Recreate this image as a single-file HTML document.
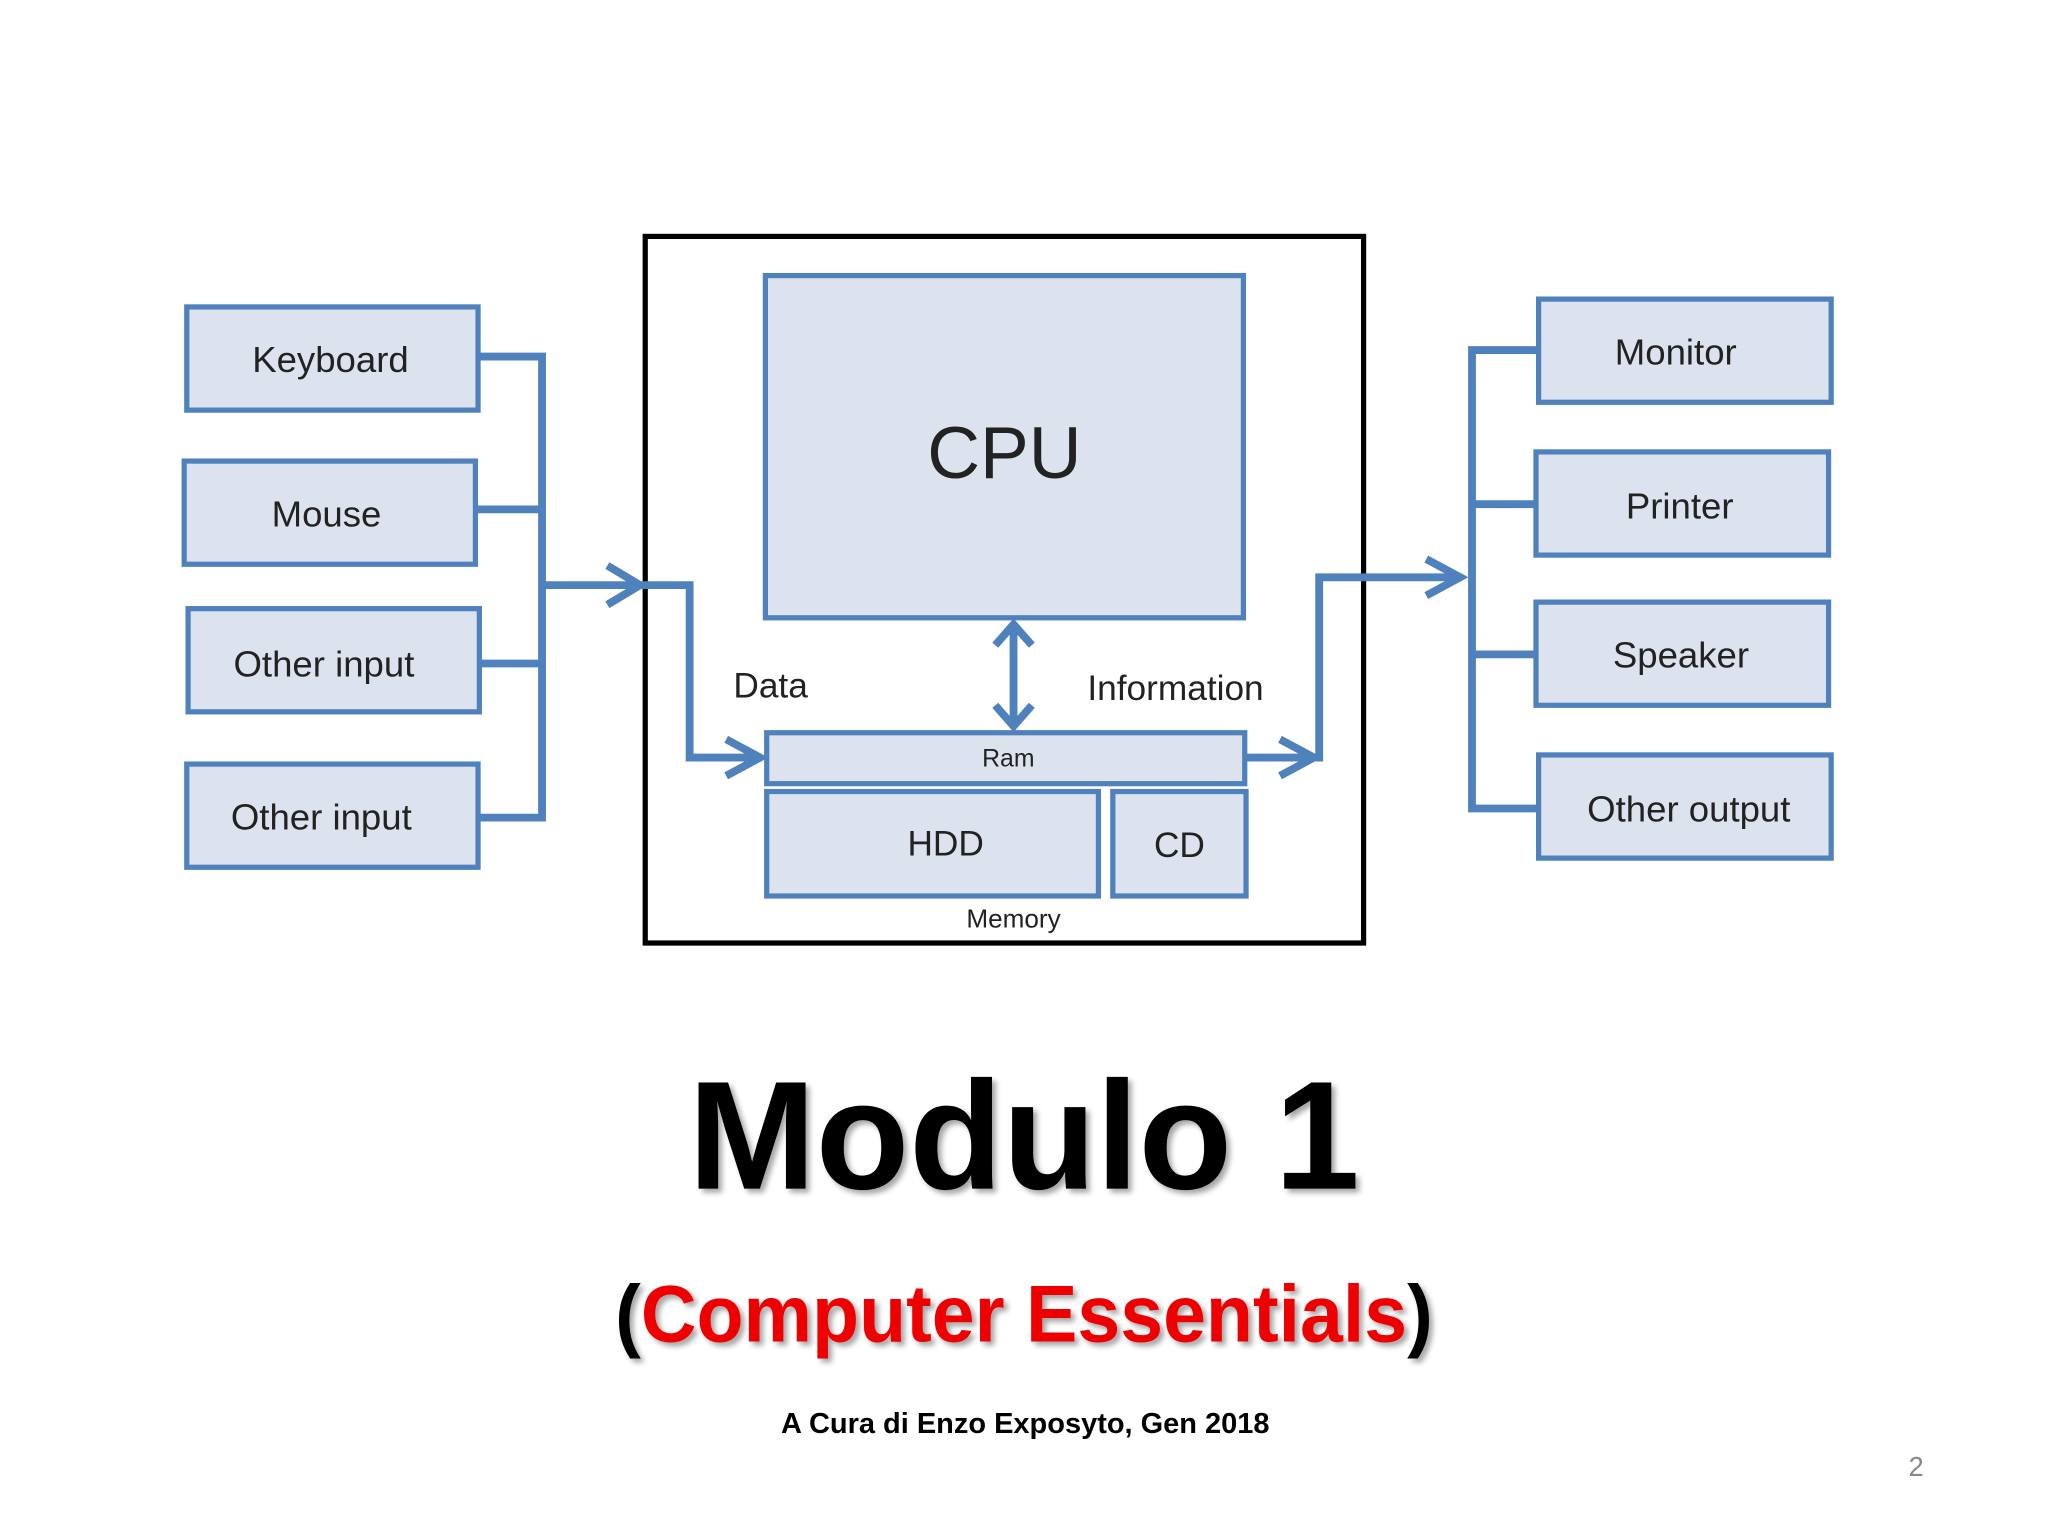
<!DOCTYPE html>
<html><head><meta charset="utf-8"><style>html,body{margin:0;padding:0;background:#fff}svg{display:block}</style></head>
<body>
<svg width="2048" height="1536" viewBox="0 0 1568 1176" xmlns="http://www.w3.org/2000/svg" font-family="'Liberation Sans', sans-serif">
<defs>
<marker id="ah" viewBox="0 0 10 10" refX="9" refY="5" markerWidth="6" markerHeight="6" markerUnits="userSpaceOnUse" orient="auto-start-reverse">
</marker>
<filter id="sh"><feDropShadow dx="3" dy="3" stdDeviation="2" flood-color="#000" flood-opacity="0.35"/></filter>
</defs>
<rect width="1568" height="1176" fill="#fff"/>
<g fill="#dce3ef" stroke="#4f81bd" stroke-width="4">
<rect x="143" y="235" width="223" height="79"/>
<rect x="141" y="353" width="223" height="79"/>
<rect x="144" y="466" width="223" height="79"/>
<rect x="143" y="585" width="223" height="79"/>
<rect x="586" y="211" width="366" height="262"/>
<rect x="587" y="561" width="366" height="39"/>
<rect x="587" y="606" width="254" height="80"/>
<rect x="852" y="606" width="102" height="80"/>
<rect x="1178" y="229" width="224" height="79"/>
<rect x="1176" y="346" width="224" height="79"/>
<rect x="1176" y="461" width="224" height="79"/>
<rect x="1178" y="578" width="224" height="79"/>
</g>
<rect x="494" y="181" width="550" height="541" fill="none" stroke="#000" stroke-width="4"/>
<g fill="none" stroke="#4f81bd" stroke-width="6">
<path d="M366 273H415M364 390H415M367 508H415M366 626H415M415 270V629"/>
<path d="M415 448H490M490 448H528V580H582"/>
<path d="M465 433L490 448L465 463M556 566L582 580L556 594"/>
<path d="M776 478V556M762 494L776 478L790 494M762 540L776 556L790 540"/>
<path d="M953 580H1010V442H1118M980 566L1006 580L980 594M1092 428L1118 442L1092 456"/>
<path d="M1127 265V622M1127 268H1178M1127 386H1176M1127 501H1176M1127 619H1178"/>
</g>
<g fill="#222" text-anchor="middle">
<text x="253" y="285" font-size="28">Keyboard</text>
<text x="250" y="403" font-size="28">Mouse</text>
<text x="248" y="518" font-size="28">Other input</text>
<text x="246" y="635" font-size="28">Other input</text>
<text x="769" y="366" font-size="56">CPU</text>
<text x="590" y="534" font-size="27">Data</text>
<text x="900" y="536" font-size="27">Information</text>
<text x="772" y="587" font-size="19">Ram</text>
<text x="724" y="655" font-size="27">HDD</text>
<text x="903" y="656" font-size="27">CD</text>
<text x="776" y="710" font-size="20">Memory</text>
<text x="1283" y="279" font-size="28">Monitor</text>
<text x="1286" y="397" font-size="28">Printer</text>
<text x="1287" y="511" font-size="28">Speaker</text>
<text x="1293" y="629" font-size="28">Other output</text>
</g>
<g text-anchor="middle" font-weight="bold" filter="url(#sh)">
<text x="784" y="910" font-size="118" fill="#000" textLength="514" lengthAdjust="spacingAndGlyphs">Modulo 1</text>
<text x="784" y="1027" font-size="62" textLength="626" lengthAdjust="spacingAndGlyphs"><tspan fill="#000">(</tspan><tspan fill="#ee0000">Computer Essentials</tspan><tspan fill="#000">)</tspan></text>
</g>
<text x="785" y="1097" font-size="22" font-weight="bold" text-anchor="middle" textLength="374" lengthAdjust="spacingAndGlyphs">A Cura di Enzo Exposyto, Gen 2018</text>
<text x="1467" y="1130" font-size="21" fill="#888" text-anchor="middle">2</text>
</svg>
</body></html>
